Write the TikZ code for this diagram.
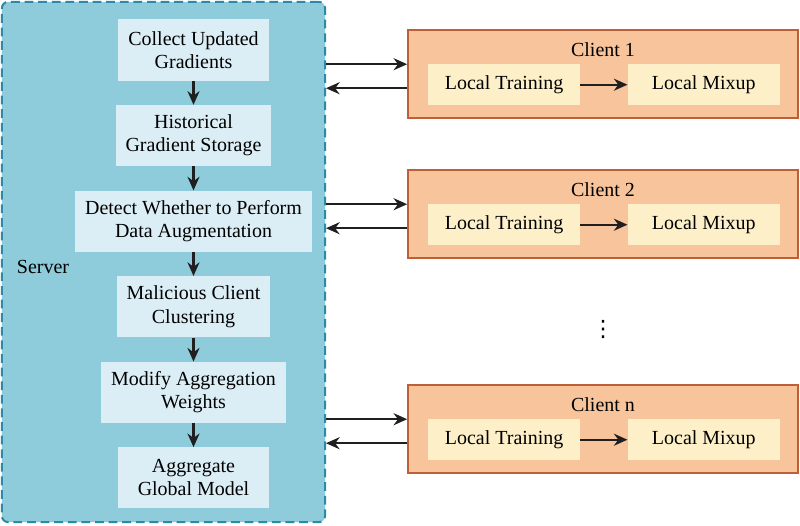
\documentclass[tikz,border=0pt]{standalone}
\usepackage{fontspec}
\setmainfont{Liberation Serif}
\newfontfamily\symfont{DejaVu Sans}
\usetikzlibrary{positioning, arrows.meta, calc}

\definecolor{srvfill}{HTML}{8ECBDB}
\definecolor{srvline}{HTML}{2B8AA6}
\definecolor{srvbox}{HTML}{DCEEF5}
\definecolor{clifill}{HTML}{F8C49C}
\definecolor{cliline}{HTML}{BF5F38}
\definecolor{clibox}{HTML}{FDF0C9}
\newcommand{\lblfont}{\fontsize{14.2}{16.4}\selectfont}

\begin{document}
\begin{tikzpicture}[
    x=0.025cm, y=-0.025cm,
    server/.style={draw=srvline, line width=1.4pt, dash pattern=on 0.22cm off 0.12cm,
                   fill=srvfill, rounded corners=0.15cm,
                   minimum width=8.075cm, minimum height=13cm},
    sbox/.style={fill=srvbox, minimum width=3.775cm, minimum height=1.525cm,
                 inner xsep=0.25cm, align=center, font=\lblfont},
    client/.style={draw=cliline, line width=1.1pt, fill=clifill,
                   minimum width=9.75cm, minimum height=2.2cm},
    cbox/.style={fill=clibox, minimum width=3.8cm, minimum height=1.025cm, font=\lblfont},
    arr/.style={-{Stealth[length=3.4mm, width=3mm]}, line width=1.5pt, draw=black!88},
    node distance=0.6cm
]
\useasboundingbox (0,0) rectangle (800,525);

% server side
\node[server] (server) at (163.5,262) {};
\node[font=\lblfont, anchor=west] (srvlbl) at (12,267) {Server};

\node[sbox] (collect) at (193.5,50) {Collect Updated\\Gradients};
\node[sbox, below=of collect] (store) {Historical\\Gradient Storage};
\node[sbox, below=of store] (detect) {Detect Whether to Perform\\Data Augmentation};
\node[sbox, below=of detect] (cluster) {Malicious Client\\Clustering};
\node[sbox, below=of cluster] (modify) {Modify Aggregation\\Weights};
\node[sbox, below=of modify] (aggr) {Aggregate\\Global Model};

\foreach \a/\b in {collect/store, store/detect, detect/cluster, cluster/modify, modify/aggr}
    \draw[arr] (\a) -- (\b);

% clients
\foreach \c/\y/\t in {c1/74/1, c2/214/2, cn/429/n}{
    \node[client] (\c) at (603,\y) {};
    \node[font=\lblfont] (\c-title) at ($(\c.north)+(0,20)$) {Client \t};
    \node[cbox] (\c-train) at ($(\c.north west)+(97,55.5)$) {Local Training};
    \node[cbox, right=1.175cm of \c-train] (\c-mix) {Local Mixup};
    \draw[arr] (\c-train) -- (\c-mix);
    \coordinate (\c-out) at ($(\c.north west)+(0,35)$);
    \coordinate (\c-in) at ($(\c.north west)+(0,59)$);
    \draw[arr] (server.east |- \c-out) -- (\c-out);
    \draw[arr] (\c-in) -- (server.east |- \c-in);
}

\node[font=\symfont\fontsize{16}{18}\selectfont] (dots) at (603,329) {⋮};

\end{tikzpicture}
\end{document}
